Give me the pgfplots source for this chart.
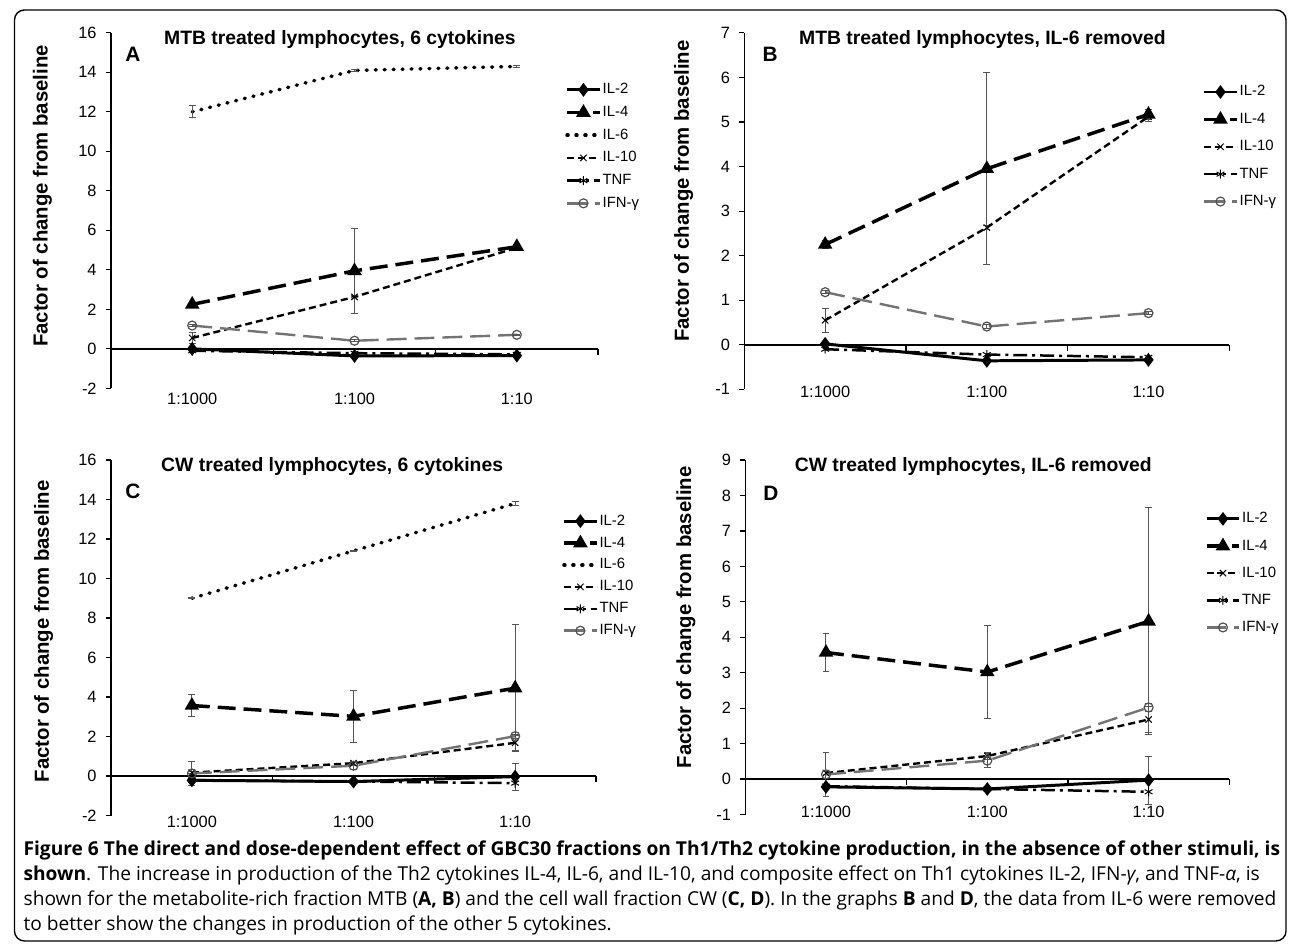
\documentclass[border=0pt]{standalone}
\usepackage{fontspec}
\setmainfont{Liberation Sans}
\newfontfamily\capfont{Open Sans}
\usepackage{pgfplots}
\pgfplotsset{compat=1.18}

\definecolor{ifngray}{RGB}{115,115,115}
\definecolor{errgray}{RGB}{85,85,85}

\pgfplotsset{
  panel/.style={
    scale only axis, clip=false,
    xmin=-0.5, xmax=2.5,
    xtick={0,1,2}, xticklabels={1:1000,1:100,1:10},
    axis y line*=left, axis x line*=bottom,
    x axis line style={draw=none},
    major x tick style={draw=none},
    tick align=outside,
    major tick length=5bp,
    major y tick style={black, line width=1.2bp},
    axis line style={line width=1.6bp, black},
    tick label style={font=\fontsize{16.5}{18}\selectfont},
    /pgf/number format/assume math mode=true,
    yticklabel style={xshift=-6bp},
    ylabel={\bfseries Factor of change from baseline},
    ylabel style={font=\fontsize{20.5}{24}\selectfont, anchor=center},
    legend cell align=left,
    legend image code/.code={\draw[mark repeat=2,mark phase=2] plot coordinates {(0bp,0bp) (16.5bp,0bp) (33bp,0bp)};},
    legend style={draw=none, fill=none, inner sep=0pt, anchor=north west,
      font=\fontsize{15}{17}\selectfont,
      nodes={inner sep=1bp, text height=11bp, text depth=3bp}},
  },
  il2/.style={black, line width=3bp, mark=diamond*, mark size=4.5bp, mark options={solid}},
  il4/.style={black, line width=3.5bp, dash pattern=on 18bp off 8bp, mark=triangle*, mark size=5bp, mark options={solid}},
  il6/.style={black, line width=3.5bp, line cap=round, dash pattern=on 1bp off 8bp, mark=none},
  il10/.style={black, line width=2.4bp, dash pattern=on 7bp off 4bp, mark=x, mark size=4.5bp, mark options={solid, line width=1bp}},
  tnf/.style={black, line width=2.5bp, dash pattern=on 14bp off 5bp on 3bp off 5bp, mark=asterisk, mark size=4.5bp, mark options={solid, line width=1bp}},
  ifn/.style={ifngray, line width=2.4bp, dash pattern=on 20bp off 8bp, mark=o, mark size=4.5bp, mark options={solid, line width=1.2bp, draw=ifngray!70!black}},
  eb/.style={error bars/.cd, y dir=both, y explicit,
    error bar style={errgray, line width=1bp, solid},
    error mark options={errgray, line width=1bp, rotate=90, mark size=3.5bp, solid}},
}

\newcommand{\zeroline}{%
  \draw[line width=1.6bp] (axis cs:-0.5,0) -- (axis cs:2.5,0);
  \pgfplotsinvokeforeach{-0.5,0.5,1.5,2.5}{\draw[line width=1.2bp] (axis cs:##1,0) -- ++(0pt,-6bp);}
}

\begin{document}
\newlength\capw
\settowidth\capw{\capfont\bfseries\fontsize{10}{12}\selectfont Figure 6 The direct and dose-dependent effect of GBC30 fractions on Th1/Th2 cytokine production, in the absence of other stimuli, is}
\pgfmathsetmacro\capsz{10*1266.7/\capw}
\begin{tikzpicture}
\useasboundingbox (0,0) rectangle (1290bp,-948bp);
\draw[line width=1.4bp, rounded corners=10bp] (9bp,-10bp) rectangle (1286bp,-945bp);

% ---------------- Panel A ----------------
\begin{axis}[panel, at={(106bp,-390bp)}, width=489bp, height=357bp,
  ymin=-2, ymax=16, ytick={-2,0,...,16},
  xticklabel style={anchor=base, yshift=-11bp},
  ylabel style={at={(axis description cs:-0.141,0.541)}},
  legend style={at={(axis description cs:0.9325,0.8627)}, row sep=6.8bp}]
\zeroline
\addplot[il2] coordinates {(0,0.0) (1,-0.36) (2,-0.34)};
\addplot[il4, eb] coordinates {(0,2.25) +- (0,0.1) (1,3.95) +- (0,2.15) (2,5.17) +- (0,0.12)};
\addplot[il6, eb] coordinates {(0,12.0) +- (0,0.3) (1,14.1) +- (0,0.05) (2,14.3) +- (0,0.05)};
\addplot[il10, eb] coordinates {(0,0.55) +- (0,0.27) (1,2.63) +- (0,0.05) (2,5.12) +- (0,0.1)};
\addplot[tnf] coordinates {(0,-0.1) (1,-0.22) (2,-0.28)};
\addplot[ifn, eb] coordinates {(0,1.18) +- (0,0.04) (1,0.41) +- (0,0.04) (2,0.71) +- (0,0.04)};
\legend{IL-2,IL-4,IL-6,IL-10,TNF,IFN-γ}
\node[font=\fontsize{19.5}{22}\selectfont\bfseries, anchor=base] at (axis description cs:0.470,0.966) {MTB treated lymphocytes, 6 cytokines};
\node[font=\fontsize{21}{24}\selectfont\bfseries, anchor=base] at (axis description cs:0.045,0.919) {A};
\end{axis}

% ---------------- Panel B ----------------
\begin{axis}[panel, at={(742bp,-391bp)}, width=487bp, height=358bp,
  ymin=-1, ymax=7, ytick={-1,0,...,7},
  xticklabel style={anchor=base, yshift=-3bp},
  ylabel style={at={(axis description cs:-0.125,0.556)}},
  legend style={at={(axis description cs:0.944,0.857)}, row sep=11.5bp}]
\zeroline
\addplot[il2] coordinates {(0,0.02) (1,-0.36) (2,-0.34)};
\addplot[il4, eb] coordinates {(0,2.25) +- (0,0.1) (1,3.95) +- (0,2.15) (2,5.17) +- (0,0.12)};
\addplot[il10, eb] coordinates {(0,0.55) +- (0,0.27) (1,2.63) +- (0,0.05) (2,5.12) +- (0,0.1)};
\addplot[tnf] coordinates {(0,-0.1) (1,-0.22) (2,-0.28)};
\addplot[ifn, eb] coordinates {(0,1.18) +- (0,0.04) (1,0.41) +- (0,0.04) (2,0.71) +- (0,0.04)};
\legend{IL-2,IL-4,IL-10,TNF,IFN-γ}
\node[font=\fontsize{19.5}{22}\selectfont\bfseries, anchor=base] at (axis description cs:0.491,0.966) {MTB treated lymphocytes, IL-6 removed};
\node[font=\fontsize{21}{24}\selectfont\bfseries, anchor=base] at (axis description cs:0.053,0.919) {B};
\end{axis}

% ---------------- Panel C ----------------
\begin{axis}[panel, at={(106bp,-819bp)}, width=487bp, height=357bp,
  ymin=-2, ymax=16, ytick={-2,0,...,16},
  xticklabel style={anchor=base, yshift=-7bp},
  ylabel style={at={(axis description cs:-0.139,0.518)}},
  legend style={at={(axis description cs:0.93,0.851)}, row sep=6bp}]
\zeroline
\addplot[il2, eb] coordinates {(0,-0.22) +- (0,0.03) (1,-0.28) +- (0,0.03) (2,-0.03) +- (0,0.68)};
\addplot[il4, eb] coordinates {(0,3.57) +- (0,0.54) (1,3.02) +- (0,1.31) (2,4.45) +- (0,3.2)};
\addplot[il6, eb] coordinates {(0,9.0) +- (0,0.02) (1,11.4) +- (0,0.02) (2,13.8) +- (0,0.1)};
\addplot[il10, eb] coordinates {(0,0.17) +- (0,0.05) (1,0.65) +- (0,0.1) (2,1.68) +- (0,0.37)};
\addplot[tnf] coordinates {(0,-0.2) (1,-0.28) (2,-0.36)};
\addplot[ifn, eb] coordinates {(0,0.13) +- (0,0.63) (1,0.52) +- (0,0.2) (2,2.02) +- (0,0.1)};
\legend{IL-2,IL-4,IL-6,IL-10,TNF,IFN-γ}
\node[font=\fontsize{19.5}{22}\selectfont\bfseries, anchor=base] at (axis description cs:0.456,0.969) {CW treated lymphocytes, 6 cytokines};
\node[font=\fontsize{21}{24}\selectfont\bfseries, anchor=base] at (axis description cs:0.045,0.892) {C};
\end{axis}

% ---------------- Panel D ----------------
\begin{axis}[panel, at={(743bp,-818bp)}, width=486bp, height=356bp,
  ymin=-1, ymax=9, ytick={-1,0,...,9},
  xticklabel style={anchor=base, yshift=2bp},
  ylabel style={at={(axis description cs:-0.123,0.556)}},
  legend style={at={(axis description cs:0.949,0.857)}, row sep=11.25bp}]
\zeroline
\addplot[il2, eb] coordinates {(0,-0.22) +- (0,0.03) (1,-0.28) +- (0,0.03) (2,-0.03) +- (0,0.68)};
\addplot[il4, eb] coordinates {(0,3.57) +- (0,0.54) (1,3.02) +- (0,1.31) (2,4.45) +- (0,3.2)};
\addplot[il10, eb] coordinates {(0,0.17) +- (0,0.05) (1,0.65) +- (0,0.1) (2,1.68) +- (0,0.37)};
\addplot[tnf] coordinates {(0,-0.2) (1,-0.28) (2,-0.36)};
\addplot[ifn, eb] coordinates {(0,0.13) +- (0,0.63) (1,0.52) +- (0,0.2) (2,2.02) +- (0,0.1)};
\legend{IL-2,IL-4,IL-10,TNF,IFN-γ}
\node[font=\fontsize{19.5}{22}\selectfont\bfseries, anchor=base] at (axis description cs:0.471,0.969) {CW treated lymphocytes, IL-6 removed};
\node[font=\fontsize{21}{24}\selectfont\bfseries, anchor=base] at (axis description cs:0.053,0.885) {D};
\end{axis}

% ---------------- Caption ----------------
\begin{scope}[every node/.style={anchor=base west, inner sep=0pt, font=\capfont\fontsize{\capsz}{\capsz}\selectfont}]
\node at (18bp,-859bp) {\bfseries Figure 6 The direct and dose-dependent effect of GBC30 fractions on Th1/Th2 cytokine production, in the absence of other stimuli, is};
\node at (18bp,-884bp) {\textbf{shown}. The increase in production of the Th2 cytokines IL-4, IL-6, and IL-10, and composite effect on Th1 cytokines IL-2, IFN-\textit{γ}, and TNF-\textit{α}, is};
\node at (18bp,-909bp) {shown for the metabolite-rich fraction MTB (\textbf{A, B}) and the cell wall fraction CW (\textbf{C, D}). In the graphs \textbf{B} and \textbf{D}, the data from IL-6 were removed};
\node at (18bp,-934bp) {to better show the changes in production of the other 5 cytokines.};
\end{scope}
\end{tikzpicture}
\end{document}
